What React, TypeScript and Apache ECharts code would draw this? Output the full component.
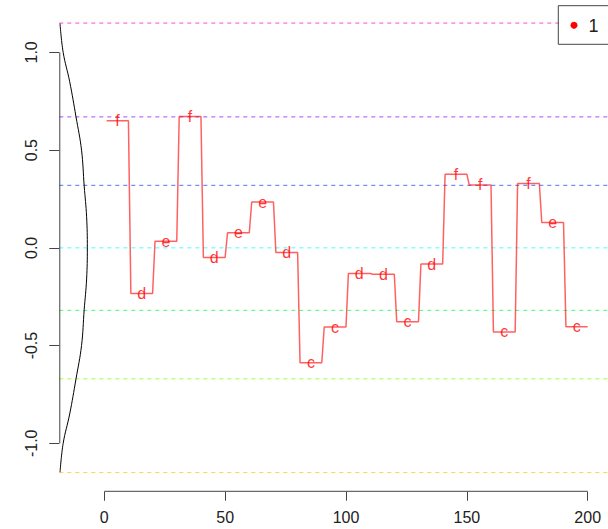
import React, { useEffect, useRef } from "react";
import * as echarts from "echarts";

// PAA segments (x index ranges), values and SAX letters
const segStarts = [1, 11, 21, 31, 41, 51, 61, 71, 81, 91, 101, 111, 121, 131, 141, 151, 161, 171, 181, 191];
const segEnds = [10, 20, 30, 40, 50, 60, 70, 80, 90, 100, 110, 120, 130, 140, 150, 160, 170, 180, 190, 200];
const segValues = [0.65, -0.233, 0.034, 0.672, -0.049, 0.077, 0.234, -0.024, -0.588, -0.405, -0.131, -0.135, -0.378, -0.083, 0.377, 0.322, -0.43, 0.329, 0.13, -0.404];
const segLetters = ["f", "d", "e", "f", "d", "e", "e", "d", "c", "c", "d", "d", "c", "d", "f", "f", "c", "f", "e", "c"];

// breakpoints (alphabet size 8) and their colours
const breakpoints = [-1.15, -0.67, -0.32, 0, 0.32, 0.67, 1.15];
const breakColors = ["#FFBF00", "#80FF00", "#00FF40", "#00FFFF", "#0040FF", "#8000FF", "#FF00BF"];

// sideways density curve (y value, x value)
const curveY = [1.148, 1.0, 0.85, 0.671, 0.5, 0.316, 0.159, 0, -0.159, -0.316, -0.5, -0.671, -0.85, -1.0, -1.148];
const curveX = [-18.3, -17.0, -14.3, -11.7, -9.4, -8.3, -7.3, -7.0, -7.3, -8.3, -9.4, -11.7, -14.3, -17.0, -18.3];

const xTicks = [0, 50, 100, 150, 200];
const yTicks = [-1, -0.5, 0, 0.5, 1];

const X_MIN = -18.6;
const X_MAX = 208.4;
const Y_MIN = -1.2476;
const Y_MAX = 1.2476;

const FONT = "'Liberation Sans', Arial, Helvetica, sans-serif";
const AXIS_COLOR = "#444";

export default function App() {
  const ref = useRef<HTMLDivElement>(null);
  useEffect(() => {
    if (!ref.current) return;
    const chart = echarts.init(ref.current, undefined, { renderer: "svg" });

    const stepData: number[][] = [];
    segValues.forEach((v, i) => {
      stepData.push([segStarts[i], v]);
      stepData.push([segEnds[i], v]);
    });
    const letterData = segValues.map((v, i) => [(segStarts[i] + segEnds[i]) / 2, v]);
    const curveData = curveY.map((y, i) => [curveX[i], y]);

    const breakSeries = breakpoints.map((b, i) => ({
      type: "line",
      name: "break" + i,
      data: [[X_MIN, b], [X_MAX, b]],
      symbol: "none",
      silent: true,
      color: breakColors[i],
      lineStyle: { color: breakColors[i], type: [4, 4], width: 1, opacity: 0.72 },
      z: 1,
    }));

    const eps = 0.002;
    const option: any = {
      animation: false,
      backgroundColor: "#ffffff",
      textStyle: { fontFamily: FONT },
      grid: { left: 59.3, right: 0, top: 4, bottom: 37.3, outerBoundsMode: "none", containLabel: false },
      xAxis: {
        type: "value",
        min: X_MIN,
        max: X_MAX,
        splitLine: { show: false },
        axisLine: { show: false, onZero: false },
        axisTick: { show: true, length: 9, customValues: xTicks, lineStyle: { color: AXIS_COLOR, width: 1 } },
        axisLabel: {
          customValues: xTicks,
          fontSize: 16,
          color: "#222",
          fontFamily: FONT,
          margin: 18,
          formatter: (v: number) => String(v),
        },
      },
      yAxis: {
        type: "value",
        min: Y_MIN,
        max: Y_MAX,
        splitLine: { show: false },
        axisLine: { show: false, onZero: false },
        axisTick: { show: true, length: 10, customValues: yTicks, lineStyle: { color: AXIS_COLOR, width: 1 } },
        axisLabel: {
          customValues: yTicks,
          rotate: 90,
          fontSize: 16,
          color: "#222",
          fontFamily: FONT,
          margin: 20,
          formatter: (v: number) => v.toFixed(1),
        },
      },
      series: [
        ...breakSeries,
        {
          type: "line",
          name: "xaxisline",
          data: [[xTicks[0], Y_MIN + eps], [xTicks[xTicks.length - 1], Y_MIN + eps]],
          symbol: "none",
          silent: true,
          color: AXIS_COLOR,
          lineStyle: { color: AXIS_COLOR, width: 1, opacity: 1 },
          z: 5,
        },
        {
          type: "line",
          name: "yaxisline",
          data: [[X_MIN + 0.2, yTicks[0]], [X_MIN + 0.2, yTicks[yTicks.length - 1]]],
          symbol: "none",
          silent: true,
          color: AXIS_COLOR,
          lineStyle: { color: AXIS_COLOR, width: 1, opacity: 1 },
          z: 5,
        },
        {
          type: "line",
          name: "density",
          data: curveData,
          symbol: "none",
          smooth: 0.4,
          silent: true,
          lineStyle: { color: "#000", width: 1 },
        },
        {
          type: "line",
          name: "1",
          data: stepData,
          symbol: "none",
          silent: true,
          lineStyle: { color: "#ff0000", width: 1.5, opacity: 0.62 },
        },
        {
          type: "scatter",
          name: "letters",
          data: letterData,
          symbolSize: 0,
          silent: true,
          label: {
            show: true,
            position: "inside",
            color: "#ff0000",
            fontSize: 16,
            fontFamily: FONT,
            formatter: (p: any) => segLetters[p.dataIndex],
          },
        },
      ],
      graphic: [
        {
          type: "rect",
          z: 100,
          shape: { x: 558.3, y: 5.7, width: 60, height: 38.6 },
          style: { fill: "#fff", stroke: "#444", lineWidth: 1 },
        },
        {
          type: "circle",
          z: 101,
          shape: { cx: 574, cy: 25.3, r: 3.5 },
          style: { fill: "#ff0000" },
        },
        {
          type: "text",
          z: 101,
          x: 588.5,
          y: 25.5,
          style: { text: "1", fontSize: 18, fontFamily: FONT, fill: "#222", verticalAlign: "middle", align: "left" },
        },
      ],
    };
    chart.setOption(option);
    return () => chart.dispose();
  }, []);
  return <div ref={ref} style={{ position: "fixed", left: 0, top: 0, width: 608, height: 529 }} />;
}
